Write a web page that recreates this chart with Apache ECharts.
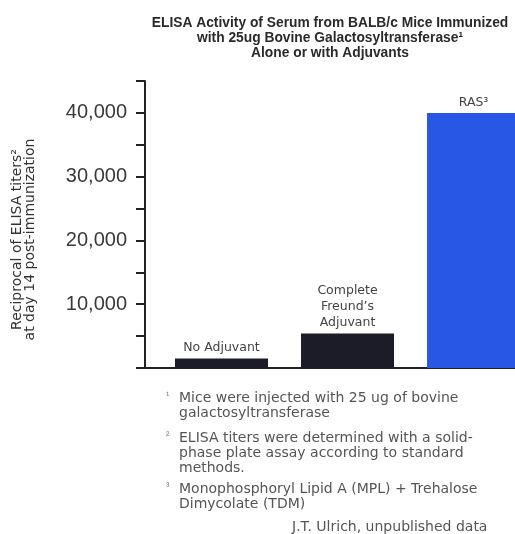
<!DOCTYPE html>
<html>
<head>
<meta charset="utf-8">
<script src="https://cdn.jsdelivr.net/npm/echarts@6/dist/echarts.min.js"></script>
<style>
  html, body { margin: 0; padding: 0; background: #fff; }
  #chart { width: 515px; height: 534px; }
</style>
</head>
<body>
<div id="chart"></div>
<script>
// Treatment groups (label drawn above each bar) and reciprocal ELISA titers
const categories = ['No Adjuvant', 'Complete\nFreund\u2019s\nAdjuvant', 'RAS\u00b3'];
const titers = [1500, 5400, 40000];
const barColors = ['#1c1c28', '#1c1c28', '#2757e4'];

// Y axis range and labelled ticks
const yMin = 0;
const yMax = 45000;
const yStep = 5000;
const yLabelStep = 10000;

const titleLines = [
  'ELISA Activity of Serum from BALB/c Mice Immunized',
  'with 25ug Bovine Galactosyltransferase\u00b9',
  'Alone or with Adjuvants'
];
const yAxisTitle = 'Reciprocal of ELISA titers\u00b2\nat day 14 post-immunization';

const footnoteMarks = ['\u00b9', '\u00b2', '\u00b3'];
const footnotes = [
  'Mice were injected with 25 ug of bovine\ngalactosyltransferase',
  'ELISA titers were determined with a solid-\nphase plate assay according to standard\nmethods.',
  'Monophosphoryl Lipid A (MPL) + Trehalose\nDimycolate (TDM)'
];
const credit = 'J.T. Ulrich, unpublished data';

const FONT = '"Liberation Sans", Arial, Helvetica, sans-serif';
const WIDE = '"DejaVu Sans", Verdana, sans-serif';
const chart = echarts.init(document.getElementById('chart'), null, { renderer: 'canvas' });

// Footnote blocks stacked under the plot
const footTop = [391, 431, 482];
const footGraphics = [];
footnotes.forEach((txt, i) => {
  footGraphics.push({
    type: 'text', left: 166, top: footTop[i] - 1,
    style: { text: footnoteMarks[i], font: '10px ' + FONT, fill: '#777' }
  });
  footGraphics.push({
    type: 'text', left: 179, top: footTop[i],
    style: { text: txt, font: '14px ' + WIDE, fill: '#555', lineHeight: 15 }
  });
});
footGraphics.push({
  type: 'text', left: 292, top: 520,
  style: { text: credit, font: '14px ' + WIDE, fill: '#555' }
});

const option = {
  backgroundColor: '#ffffff',
  animation: false,
  title: {
    text: titleLines.join('\n'),
    left: 325, top: 11,
    textAlign: 'center',
    textStyle: { fontFamily: FONT, fontSize: 13.8, fontWeight: 'bold', color: '#2a2a2a', lineHeight: 15 }
  },
  grid: { left: 145, top: 81, right: 0, bottom: 166, containLabel: false },
  xAxis: {
    type: 'value',
    // band of each group is one unit wide, centred on its index
    min: -0.607,
    max: 2.329,
    axisLine: { show: true, onZero: false, lineStyle: { color: '#222', width: 2 } },
    axisTick: { show: false },
    axisLabel: { show: false },
    splitLine: { show: false }
  },
  yAxis: {
    type: 'value',
    min: yMin, max: yMax, interval: yStep,
    name: yAxisTitle,
    nameLocation: 'middle',
    nameGap: 108,
    nameRotate: 90,
    nameTextStyle: { fontFamily: WIDE, fontSize: 14, color: '#333', lineHeight: 13, align: 'center', padding: [0, 30, 0, 0] },
    axisLine: { show: true, onZero: false, lineStyle: { color: '#222', width: 2 } },
    axisTick: { show: true, inside: false, length: 9, lineStyle: { color: '#222', width: 2 } },
    axisLabel: {
      margin: 18,
      fontFamily: FONT, fontSize: 20, color: '#3a3a3a',
      formatter: v => (v > 0 && v % yLabelStep === 0) ? v.toLocaleString('en-US') : ''
    },
    splitLine: { show: false }
  },
  series: [{
    type: 'bar',
    barWidth: 93,
    data: titers.map((v, i) => ({ value: [i, v], itemStyle: { color: barColors[i] } })),
    label: {
      show: true, position: 'top', distance: 2.5,
      fontFamily: WIDE, fontSize: 12.5, color: '#444', lineHeight: 16, align: 'center',
      formatter: p => categories[p.dataIndex]
    }
  }],
  graphic: footGraphics
};
chart.setOption(option);
</script>
</body>
</html>
